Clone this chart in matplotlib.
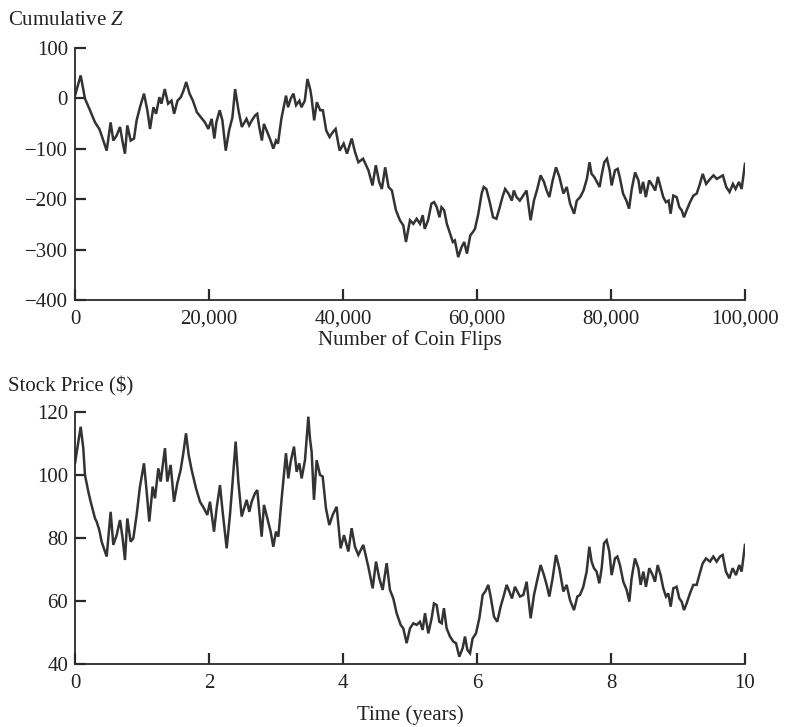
import matplotlib
matplotlib.use("Agg")
import matplotlib.pyplot as plt
from matplotlib.ticker import FuncFormatter

plt.rcParams['font.family'] = ['Liberation Serif', 'DejaVu Serif']
plt.rcParams['mathtext.fontset'] = 'custom'
plt.rcParams['mathtext.rm'] = 'Liberation Serif'
plt.rcParams['mathtext.it'] = 'Liberation Serif:italic'

# ---- Top panel: cumulative Z vs number of coin flips ----
flips = [0, 850, 1490, 2240, 2990, 3630, 3980, 4730, 5320, 5720, 6220, 6720, 7110, 7460, 7810,
         8310, 8810, 9200, 9700, 10300, 10800, 11200, 11700, 12100, 12600, 12900, 13400, 13900,
         14400, 14800, 15300, 15800, 16200, 16600, 17100, 17600, 18200, 18800, 19400, 19900,
         20400, 20800, 21100, 21600, 22000, 22500, 23000, 23500, 23900, 24400, 24900,
         25600, 26000, 26400, 26900, 27200, 27500, 27900, 28200, 28700, 29200, 29600, 30000,
         30300, 30800, 31500, 31800, 32200, 32600, 33000, 33500, 33800, 34300, 34700, 35100,
         35300, 35700, 36100, 36600, 37000, 37500, 38000, 38500, 38900, 39500, 40100, 40600,
         41300, 41800, 42300, 43000, 43800, 44400, 44900, 45400, 45800, 46300, 46800, 47300,
         47900, 48500, 49000, 49400,
         50000, 50500, 51000, 51500, 51900, 52200, 52700, 53200, 53600, 54000, 54400, 54700,
         55100, 55500, 56000, 56400, 56700, 57200, 57700, 58100, 58500, 59000, 59400, 59700,
         60200, 60700, 61000, 61400, 61900, 62400, 62900, 63400, 63800, 64200, 64700, 65200,
         65500, 65900, 66400, 66900, 67400, 68000, 68500, 69000, 69500, 70000, 70400, 70800,
         71300, 71800, 72300, 72900, 73400, 73900, 74500, 74900,
         75400, 75900, 76400, 76800, 77100, 77500, 77900, 78300, 78600, 79000, 79400, 79800,
         80100, 80600, 81000, 81300, 81800, 82300, 82700, 83100, 83600, 84100, 84400, 84800,
         85200, 85700, 86200, 86600, 87000, 87400, 87800, 88200, 88600, 88900, 89300, 89800,
         90200, 90550, 90900, 91300, 91800, 92300, 92800, 93200, 93700, 94200, 94800, 95300,
         95800, 96300, 96700, 97200, 97700, 98200, 98600, 99100, 99500, 100000]
cum_z = [5, 45, -1, -24, -48, -61, -74, -104, -48, -84, -74, -57, -87, -110, -54,
         -84, -80, -44, -18, 9, -24, -61, -18, -31, 2, -11, 18, -11,
         -5, -31, -5, 2, 15, 32, 9, -5, -28, -38, -48, -61,
         -41, -80, -48, -24, -44, -104, -64, -38, 18, -24, -57,
         -41, -54, -44, -34, -31, -57, -84, -51, -67, -84, -100, -84,
         -90, -41, 5, -18, -1, 9, -14, -5, -18, -5, 38, 18,
         2, -44, -8, -24, -24, -64, -77, -67, -61, -104, -90, -110,
         -80, -107, -127, -120, -143, -173, -133, -166, -180, -137, -176, -183,
         -222, -242, -252, -285,
         -242, -249, -239, -249, -232, -259, -242, -209, -206, -216, -236, -216,
         -222, -249, -269, -285, -282, -315, -295, -285, -308, -272, -265, -259,
         -229, -189, -176, -180, -206, -236, -239, -216, -196, -180, -189, -203,
         -183, -196, -203, -193, -183, -242, -203, -180, -153, -166, -183, -196,
         -163, -137, -156, -189, -176, -209, -229, -203,
         -196, -183, -160, -127, -150, -156, -166, -176, -153, -127, -120, -143,
         -173, -143, -140, -156, -189, -203, -219, -180, -147, -163, -189, -166,
         -196, -163, -173, -183, -156, -176, -196, -206, -203, -229, -193, -196,
         -216, -222, -236, -222, -206, -193, -189, -173, -150, -170, -160, -153,
         -160, -156, -153, -176, -186, -170, -180, -166, -180, -130]

# ---- Bottom panel: stock price vs time (years) ----
years = [0.0, 0.085, 0.124, 0.149, 0.199, 0.234, 0.299, 0.323, 0.363, 0.398, 0.473, 0.532,
         0.572, 0.622, 0.672, 0.711, 0.746, 0.781, 0.831, 0.871, 0.92, 0.97, 1.03, 1.07,
         1.109, 1.159, 1.194, 1.244, 1.279, 1.343, 1.378, 1.428, 1.478, 1.527, 1.577, 1.617,
         1.657, 1.697, 1.741, 1.806, 1.866, 1.925, 1.975, 2.015, 2.075, 2.114, 2.164, 2.204,
         2.264, 2.313, 2.353, 2.398, 2.438, 2.488,
         2.562, 2.602, 2.637, 2.687, 2.721, 2.751, 2.786, 2.821, 2.871, 2.920, 2.960, 3.000,
         3.035, 3.085, 3.149, 3.184, 3.219, 3.269, 3.308, 3.348, 3.383, 3.433, 3.483, 3.507,
         3.532, 3.567, 3.607, 3.657, 3.697, 3.746, 3.796, 3.846, 3.906, 3.965, 4.015, 4.080,
         4.129, 4.179, 4.229, 4.303, 4.378, 4.443, 4.493, 4.542, 4.592, 4.652, 4.701, 4.751,
         4.801, 4.861, 4.900, 4.950,
         5.000, 5.050, 5.100, 5.149, 5.189, 5.224, 5.274, 5.323, 5.358, 5.398, 5.438, 5.473,
         5.507, 5.547, 5.597, 5.647, 5.687, 5.736, 5.786, 5.821, 5.856, 5.896, 5.935, 5.985,
         6.035, 6.085, 6.124, 6.169, 6.204, 6.254, 6.303, 6.353, 6.403, 6.443, 6.483, 6.522,
         6.567, 6.602, 6.642, 6.692, 6.741, 6.801, 6.851, 6.900, 6.950, 7.000, 7.040, 7.080,
         7.129, 7.179, 7.229, 7.289, 7.338, 7.388, 7.448, 7.498,
         7.537, 7.587, 7.637, 7.677, 7.711, 7.746, 7.786, 7.826, 7.861, 7.896, 7.935, 7.975,
         8.010, 8.060, 8.095, 8.134, 8.184, 8.234, 8.274, 8.308, 8.358, 8.408, 8.443, 8.483,
         8.522, 8.572, 8.622, 8.657, 8.697, 8.741, 8.781, 8.821, 8.856, 8.891, 8.930, 8.980,
         9.020, 9.055, 9.090, 9.129, 9.179, 9.229, 9.279, 9.318, 9.368, 9.418, 9.478, 9.527,
         9.577, 9.627, 9.667, 9.716, 9.766, 9.816, 9.866, 9.915, 9.950, 10.0]
price = [103.8, 115.4, 108.6, 100.1, 94.8, 91.6, 86.3, 85.3, 82.6, 78.9, 74.2, 88.4,
         77.9, 81.0, 85.8, 80.0, 73.1, 86.3, 78.9, 80.0, 87.4, 96.4, 103.8, 94.8,
         85.3, 96.4, 92.7, 102.2, 98.0, 108.6, 98.0, 103.3, 91.6, 97.4, 101.7, 107.0,
         113.3, 106.4, 101.7, 95.9, 91.6, 89.5, 87.4, 91.6, 82.1, 89.5, 96.9, 88.4,
         76.8, 87.4, 98.0, 110.7, 98.0, 86.9,
         92.2, 88.4, 91.6, 94.3, 95.3, 88.4, 80.5, 90.6, 86.3, 82.1, 77.3, 82.1,
         80.5, 92.7, 107.0, 99.0, 104.3, 109.1, 101.1, 103.8, 99.0, 104.8, 118.6, 111.7,
         107.5, 92.2, 104.8, 100.1, 99.6, 89.5, 84.2, 87.4, 90.0, 76.8, 81.0, 75.8,
         83.2, 77.3, 74.7, 77.9, 71.0, 64.1, 72.6, 67.3, 63.6, 72.1, 63.6, 60.9,
         56.2, 52.5, 51.4, 46.7,
         51.4, 53.0, 52.5, 53.5, 50.9, 56.2, 49.8, 54.6, 59.3, 58.8, 53.5, 53.0,
         57.8, 51.4, 48.8, 47.2, 46.7, 42.4, 45.1, 48.8, 44.6, 43.5, 48.2, 49.8,
         54.6, 62.0, 63.1, 65.2, 61.5, 55.1, 53.5, 58.3, 62.0, 65.2, 63.1, 60.9,
         64.6, 63.1, 61.5, 62.0, 66.2, 54.6, 62.0, 66.8, 71.5, 68.3, 65.2, 61.5,
         67.3, 74.7, 70.5, 63.1, 65.2, 60.4, 57.2, 61.5,
         62.0, 64.6, 69.4, 77.3, 72.6, 70.5, 69.4, 65.7, 70.5, 78.4, 79.4, 75.8,
         68.3, 73.6, 74.2, 71.5, 66.2, 63.6, 59.9, 67.3, 73.6, 70.5, 65.2, 69.4,
         64.6, 70.5, 68.3, 66.2, 71.5, 68.3, 64.1, 61.5, 62.5, 58.3, 64.1, 64.6,
         60.9, 59.9, 57.2, 59.3, 62.5, 65.2, 65.2, 68.3, 72.0, 73.6, 72.6, 74.2,
         72.6, 74.2, 74.7, 69.4, 67.3, 70.5, 68.3, 71.5, 69.4, 77.9]

top_yticks = [100, 0, -100, -200, -300, -400]
top_xticks = [0, 20000, 40000, 60000, 80000, 100000]
bot_yticks = [40, 60, 80, 100, 120]
bot_xticks = [0, 2, 4, 6, 8, 10]

LINE = '#333333'
TXT = '#222222'
FS = 15

fig = plt.figure(figsize=(7.86, 7.27), dpi=100)
ax1 = fig.add_axes([0.0954, 0.5873, 0.8524, 0.3471])
ax2 = fig.add_axes([0.0954, 0.0863, 0.8524, 0.3466])


def style(ax):
    for s in ['top', 'right']:
        ax.spines[s].set_visible(False)
    for s in ['left', 'bottom']:
        ax.spines[s].set_linewidth(1.3)
        ax.spines[s].set_color('#2a2a2a')
    ax.tick_params(direction='in', length=8, width=1.6, color='#2a2a2a',
                   labelsize=FS, labelcolor=TXT)
    ax.tick_params(axis='x', pad=7)
    ax.tick_params(axis='y', pad=5)


ax1.plot(flips, cum_z, color=LINE, lw=1.8, solid_joinstyle='miter')
ax1.set_xlim(0, 100000)
ax1.set_ylim(-400, 100)
ax1.set_yticks(top_yticks)
ax1.set_xticks(top_xticks)
ax1.xaxis.set_major_formatter(FuncFormatter(lambda v, p: f"{int(v):,}"))
ax1.yaxis.set_major_formatter(FuncFormatter(lambda v, p: f"{int(v)}".replace('-', '\u2212')))
style(ax1)
ax1.set_xlabel('Number of Coin Flips', fontsize=FS, color=TXT, labelpad=1)

ax2.plot(years, price, color=LINE, lw=1.8, solid_joinstyle='miter')
ax2.set_xlim(0, 10)
ax2.set_ylim(40, 120)
ax2.set_yticks(bot_yticks)
ax2.set_xticks(bot_xticks)
style(ax2)
ax2.set_xlabel('Time (years)', fontsize=FS, color=TXT, labelpad=9)

fig.text(0.010, 0.972, 'Cumulative $\\mathit{Z}$', fontsize=FS, color=TXT, va='center', ha='left')
fig.text(0.010, 0.468, 'Stock Price ($)', fontsize=FS, color=TXT, va='center', ha='left')

fig.savefig('out.png', dpi=100, facecolor='white')
